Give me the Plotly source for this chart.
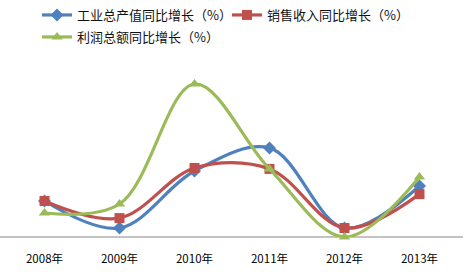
import plotly.graph_objects as go

years = ["2008年", "2009年", "2010年", "2011年", "2012年", "2013年"]
output_growth = [12.0, 3.0, 22.0, 29.7, 3.0, 17.0]
sales_growth = [12.0, 6.3, 23.0, 22.7, 3.0, 14.3]
profit_growth = [8.0, 11.0, 51.0, 22.7, 0.0, 20.0]

names = ["工业总产值同比增长（%）", "销售收入同比增长（%）", "利润总额同比增长（%）"]
colors = ["#4F81BD", "#C0504D", "#9BBB59"]
symbols = ["diamond", "square", "triangle-up"]
series = [output_growth, sales_growth, profit_growth]
legends = ["legend", "legend2", "legend3"]

fig = go.Figure()
for name, vals, c, s, lg in zip(names, series, colors, symbols, legends):
    fig.add_trace(go.Scatter(
        x=years, y=vals, name=name, mode="lines+markers",
        line=dict(color=c, width=3.2, shape="spline", smoothing=1.0),
        marker=dict(symbol=s, size=10, color=c),
        cliponaxis=False, legend=lg,
    ))

font = dict(family="Noto Sans CJK SC, sans-serif", size=13, color="#111")
common = dict(orientation="h", xref="container", yref="container",
              xanchor="left", yanchor="top", font=font,
              bgcolor="rgba(0,0,0,0)", borderwidth=0, itemwidth=30)

fig.update_layout(
    width=466, height=272,
    margin=dict(l=7, r=9, t=50, b=35, autoexpand=False),
    paper_bgcolor="white", plot_bgcolor="white",
    showlegend=True,
    legend=dict(x=37/466, y=1 - 0/272, **common),
    legend2=dict(x=227/466, y=1 - 0/272, **common),
    legend3=dict(x=37/466, y=1 - 22/272, **common),
    xaxis=dict(type="category", range=[-0.5, 5.5], showgrid=False,
               showline=False,
               ticks="outside", ticklen=11, tickcolor="rgba(0,0,0,0)",
               tickfont=dict(family="Noto Sans CJK SC, sans-serif", size=11.5, color="#000")),
    yaxis=dict(range=[0, 62.33], visible=False, showgrid=False, zeroline=False),
    shapes=[dict(type="line", xref="paper", yref="paper",
                 x0=-7/450, x1=456/450, y0=0, y1=0,
                 line=dict(color="#888", width=1), layer="below")],
)

fig.write_html("out.html")
